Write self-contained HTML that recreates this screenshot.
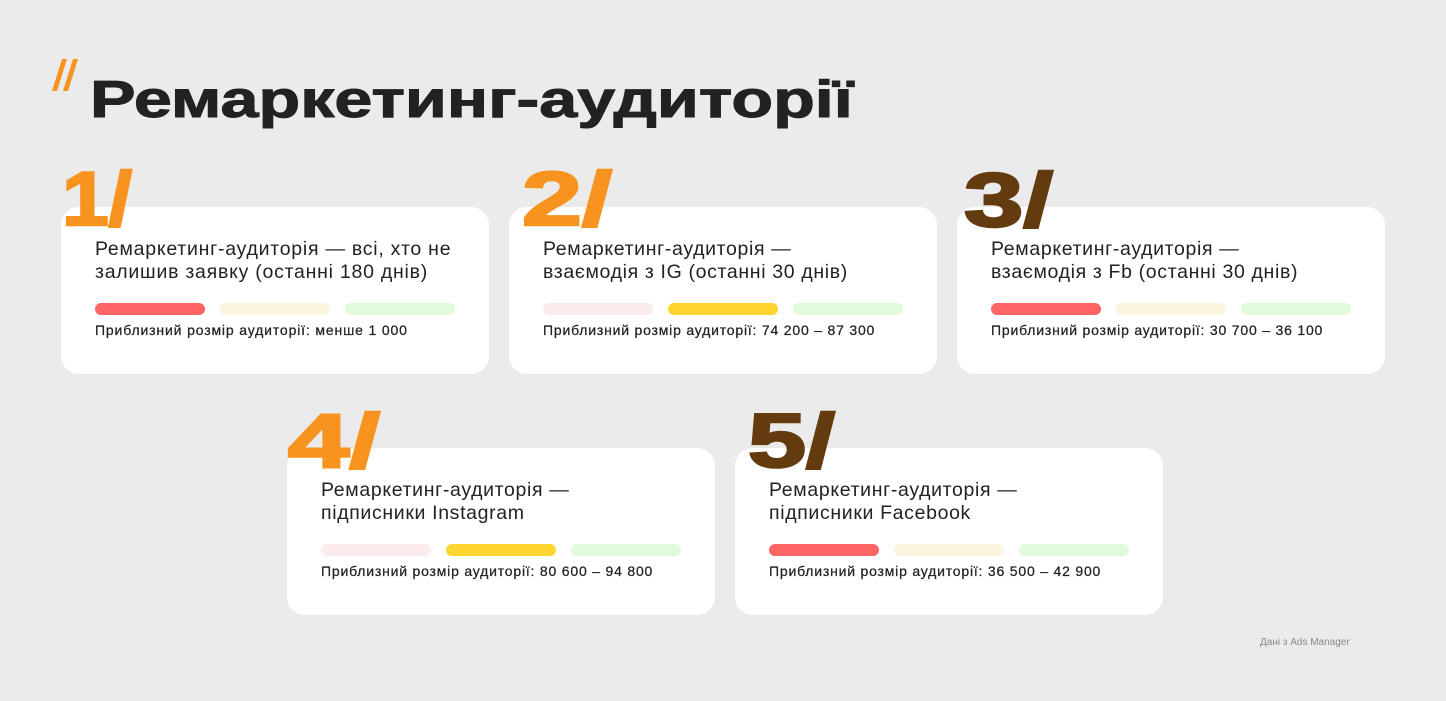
<!DOCTYPE html>
<html><head><meta charset="utf-8">
<style>
html,body{margin:0;padding:0;}
body{width:1446px;height:701px;background:#ebebeb;position:relative;overflow:hidden;font-family:"Liberation Sans","DejaVu Sans",sans-serif;color:#222;}
.card{position:absolute;width:428px;height:167px;background:#fff;border-radius:18px;}
.t{position:absolute;left:34px;top:31px;font-size:19.5px;line-height:23px;color:#222;white-space:nowrap;letter-spacing:0.65px;}
.bars{position:absolute;left:34px;top:96px;}
.bar{position:absolute;top:0;width:110px;height:12px;border-radius:6px;}
.b1{left:0}.b2{left:125px}.b3{left:250px}
.red{background:#ff6565}.pink{background:#fcebeb}.cream{background:#fbf4de}.green{background:#e0fadb}.yellow{background:#ffd630}
.lab{position:absolute;left:34px;top:115px;font-size:14px;line-height:16px;color:#222;white-space:nowrap;-webkit-text-stroke:0.25px #222;letter-spacing:0.8px;}
svg{position:absolute;left:0;top:0;}
.note{position:absolute;left:1260px;top:637px;font-size:10px;color:#888;white-space:nowrap;}
</style></head><body>

<div class="card" style="left:61px;top:207px">
  <div class="t" style="letter-spacing:0.75px">Ремаркетинг-аудиторія — всі, хто не<br>залишив заявку (останні 180 днів)</div>
  <div class="bars"><div class="bar b1 red"></div><div class="bar b2 cream"></div><div class="bar b3 green"></div></div>
  <div class="lab" style="letter-spacing:0.85px">Приблизний розмір аудиторії: менше 1 000</div>
</div>
<div class="card" style="left:509px;top:207px">
  <div class="t">Ремаркетинг-аудиторія —<br>взаємодія з IG (останні 30 днів)</div>
  <div class="bars"><div class="bar b1 pink"></div><div class="bar b2 yellow"></div><div class="bar b3 green"></div></div>
  <div class="lab">Приблизний розмір аудиторії: 74 200 – 87 300</div>
</div>
<div class="card" style="left:957px;top:207px">
  <div class="t">Ремаркетинг-аудиторія —<br>взаємодія з Fb (останні 30 днів)</div>
  <div class="bars"><div class="bar b1 red"></div><div class="bar b2 cream"></div><div class="bar b3 green"></div></div>
  <div class="lab">Приблизний розмір аудиторії: 30 700 – 36 100</div>
</div>
<div class="card" style="left:287px;top:448px">
  <div class="t">Ремаркетинг-аудиторія —<br>підписники Instagram</div>
  <div class="bars"><div class="bar b1 pink"></div><div class="bar b2 yellow"></div><div class="bar b3 green"></div></div>
  <div class="lab">Приблизний розмір аудиторії: 80 600 – 94 800</div>
</div>
<div class="card" style="left:735px;top:448px">
  <div class="t">Ремаркетинг-аудиторія —<br>підписники Facebook</div>
  <div class="bars"><div class="bar b1 red"></div><div class="bar b2 cream"></div><div class="bar b3 green"></div></div>
  <div class="lab">Приблизний розмір аудиторії: 36 500 – 42 900</div>
</div>

<svg width="1446" height="701" viewBox="0 0 1446 701">
  <polygon points="62,59 67,59 57,91 52,91" fill="#f7931e"/>
  <polygon points="73,59 78,59 68,91 63,91" fill="#f7931e"/>
  <text x="90" y="117" font-family="Liberation Sans, sans-serif" font-weight="700" font-size="52" fill="#222" stroke="#222" stroke-width="1" textLength="763" lengthAdjust="spacingAndGlyphs">Ремаркетинг-аудиторії</text>
  <g font-family="Liberation Sans, sans-serif" font-weight="700" font-size="76" stroke-width="2.5">
    <text x="62" y="225" fill="#f7931e" stroke="#f7931e" textLength="70" lengthAdjust="spacingAndGlyphs">1/</text>
    <text x="522" y="225" fill="#f7931e" stroke="#f7931e" textLength="90" lengthAdjust="spacingAndGlyphs">2/</text>
    <text x="964" y="226" fill="#633b0f" stroke="#633b0f" textLength="89" lengthAdjust="spacingAndGlyphs">3/</text>
    <text x="288" y="467" fill="#f7931e" stroke="#f7931e" textLength="92" lengthAdjust="spacingAndGlyphs">4/</text>
    <text x="748" y="467" fill="#633b0f" stroke="#633b0f" textLength="87" lengthAdjust="spacingAndGlyphs">5/</text>
  </g>
</svg>

<div class="note">Дані з Ads Manager</div>
</body></html>
